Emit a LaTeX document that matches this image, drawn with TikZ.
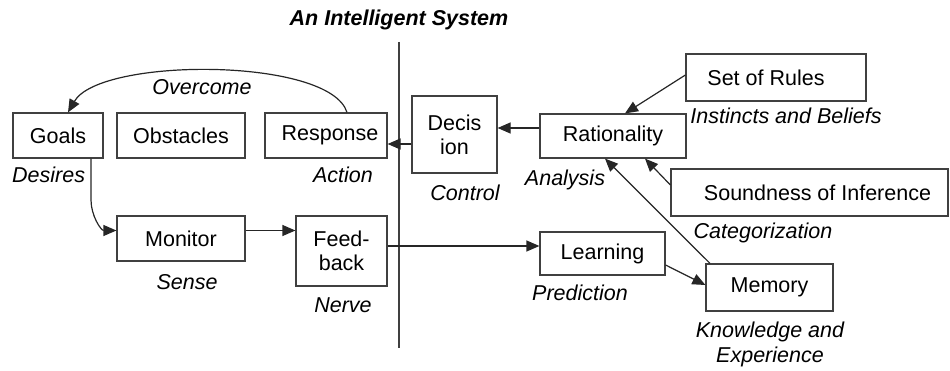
\documentclass[tikz,border=0pt]{standalone}
\usepackage{fontspec}
\setmainfont{Liberation Sans}
\usepackage{tikz}
\usetikzlibrary{arrows.meta}

\begin{document}
\begin{tikzpicture}[x=1pt,y=1pt,
  boite/.style={draw=black!75, line width=1.2pt, inner sep=0pt, align=center, font=\fontsize{21.5}{24}\selectfont},
  etiq/.style={inner sep=0pt, align=center, font=\fontsize{21.5}{25}\selectfont\itshape},
  fleche/.style={draw=black!85, line width=1.2pt, -{Triangle[length=13pt,width=11pt]}}]

 \useasboundingbox (0,0) rectangle (950,370);

 \node[font=\fontsize{21.5}{25}\selectfont\bfseries\itshape] (titre) at (399,350) {An Intelligent System};
 \coordinate (haut) at (399,328);
 \coordinate (bas) at (399,22);
 \draw[black!75, line width=1.2pt] (haut) -- (bas); % la frontiere du systeme

 % les boites
 \node[boite, minimum width=90pt, minimum height=45pt] (goals) at (58,234.5) {Goals};
 \node[boite, minimum width=128pt, minimum height=45pt] (obstacles) at (181,234.5) {Obstacles};
 \node[boite, minimum width=122pt, minimum height=45pt] (response) at (326,234.5) {\hspace*{8pt}Response};
 \node[boite, minimum width=85pt, minimum height=77pt] (decision) at (454.5,235.5) {Decis\\ion};
 \node[boite, minimum width=146pt, minimum height=44pt] (rationality) at (613,234) {Rationality};
 \node[boite, minimum width=180pt, minimum height=47pt] (rules) at (776,292.5) {Set of Rules\hspace*{20pt}};
 \node[boite, minimum width=277pt, minimum height=47pt] (soundness) at (809.5,177.5) {\hspace*{16pt}Soundness of Inference};
 \node[boite, minimum width=125pt, minimum height=43pt] (learning) at (602.5,116.5) {Learning};
 \node[boite, minimum width=127pt, minimum height=47pt] (memory) at (769.5,82.5) {Memory};
 \node[boite, minimum width=128pt, minimum height=45pt] (monitor) at (181,131.5) {Monitor};
 \node[boite, minimum width=91pt, minimum height=70pt] (feedback) at (341.5,119) {Feed-\\back};

 % les etiquettes
 \node[etiq] (overcome) at (202,283) {Overcome};
 \node[etiq, anchor=west] (desires) at (12,195) {Desires};
 \node[etiq] (action) at (343,195) {Action};
 \node[etiq] (sense) at (187,88) {Sense};
 \node[etiq] (nerve) at (343,65) {Nerve};
 \node[etiq] (control) at (465,177) {Control};
 \node[etiq] (analysis) at (565,190) {Analysis};
 \node[etiq] (prediction) at (580,77) {Prediction};
 \node[etiq] (instincts) at (786,254) {Instincts and Beliefs};
 \node[etiq] (categorization) at (763,137) {Categorization};
 \node[etiq] (knowledge) at (770,25.5) {Knowledge and\\Experience};

 % les fleches
 \draw[fleche] ([xshift=21pt]response.north) .. controls (330,313) and (100,313) .. ([xshift=10pt]goals.north);
 \draw[fleche] ([xshift=33pt]goals.south) -- (91,170) to[out=-90,in=180] ([yshift=8pt]monitor.west);
 \draw[fleche] ([yshift=8pt]monitor.east) -- ([yshift=8pt]monitor.east -| feedback.west);
 \draw[fleche] ([yshift=5pt]feedback.east) -- ([yshift=5pt]feedback.east -| learning.west);
 \draw[fleche] ([yshift=8pt]rationality.west) -- ([yshift=8pt]rationality.west -| decision.east);
 \draw[fleche] ([yshift=-9.5pt]decision.west) -- ([yshift=-9.5pt]decision.west -| response.east);
 \draw[fleche] ([yshift=2.5pt]rules.west) -- ([xshift=12pt]rationality.north);
 \draw[fleche] ([yshift=7.5pt]soundness.west) -- ([xshift=32pt]rationality.south);
 \draw[fleche] ([xshift=-59.5pt]memory.north) -- ([xshift=-8pt]rationality.south);
 \draw[fleche] ([yshift=-11.5pt]learning.east) -- ([yshift=2.5pt]memory.west);
\end{tikzpicture}
\end{document}
